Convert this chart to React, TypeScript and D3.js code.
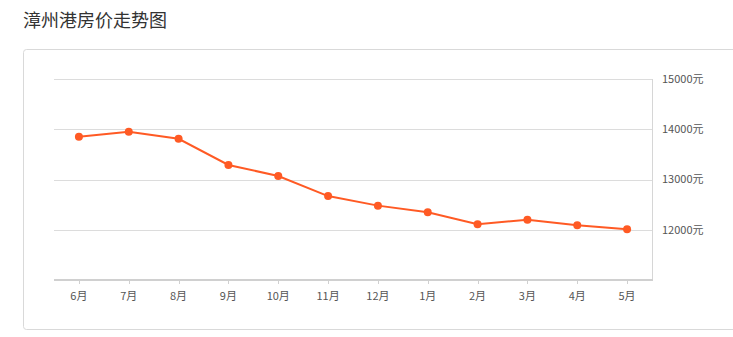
import React from "react";
import * as d3 from "d3";

const months = ["6月", "7月", "8月", "9月", "10月", "11月", "12月", "1月", "2月", "3月", "4月", "5月"];
const prices = [13850, 13950, 13810, 13290, 13070, 12670, 12480, 12350, 12110, 12200, 12090, 12010];
const yTicks = [12000, 13000, 14000, 15000];
const title = "漳州港房价走势图";

const W = 733;
const H = 337;
const plotLeft = 54;
const plotRight = 652;
const plotTop = 79;
const plotBottom = 280;
const font = "'Noto Sans CJK SC', 'Noto Sans', sans-serif";
const lineColor = "#ff5a24";

export default function App() {
  const x = d3.scaleBand<string>().domain(months).range([plotLeft, plotRight]).paddingInner(0).paddingOuter(0);
  const y = d3.scaleLinear().domain([11000, 15000]).range([plotBottom, plotTop]);
  const cx = (m: string) => (x(m) as number) + x.bandwidth() / 2;
  const line = d3
    .line<number>()
    .x((_, i) => cx(months[i]))
    .y((d) => y(d));

  return (
    <svg
      width={W}
      height={H}
      style={{ position: "fixed", left: 0, top: 0, display: "block", background: "#fff" }}
    >
      <text x={23} y={27} fontSize={18} fill="#333" fontFamily={font}>
        {title}
      </text>
      <rect x={23.5} y={49.5} width={740} height={280} rx={3} ry={3} fill="#fff" stroke="#d9d9d9" strokeWidth={1} />
      {yTicks.map((t) => (
        <g key={t}>
          <line x1={plotLeft} x2={plotRight} y1={Math.round(y(t)) + 0.5} y2={Math.round(y(t)) + 0.5} stroke="#dcdcdc" strokeWidth={1} />
          <text x={662} y={y(t)} dy="0.35em" fontSize={11} fill="#555" fontFamily={font}>
            {t}元
          </text>
        </g>
      ))}
      <line x1={plotRight + 0.5} x2={plotRight + 0.5} y1={plotTop} y2={plotBottom} stroke="#d6d6d6" strokeWidth={1} />
      <line x1={plotLeft} x2={plotRight + 1} y1={plotBottom} y2={plotBottom} stroke="#d0d0d0" strokeWidth={2} />
      {months.map((m) => (
        <g key={m}>
          <line x1={Math.round(cx(m)) + 0.5} x2={Math.round(cx(m)) + 0.5} y1={plotBottom} y2={plotBottom + 4} stroke="#d0d0d0" strokeWidth={1} />
          <text x={cx(m)} y={296} dy="0.35em" textAnchor="middle" fontSize={11} fill="#555" fontFamily={font}>
            {m}
          </text>
        </g>
      ))}
      <path d={line(prices) || ""} fill="none" stroke={lineColor} strokeWidth={2} />
      {prices.map((p, i) => (
        <circle key={i} cx={cx(months[i])} cy={y(p)} r={4} fill={lineColor} />
      ))}
    </svg>
  );
}
